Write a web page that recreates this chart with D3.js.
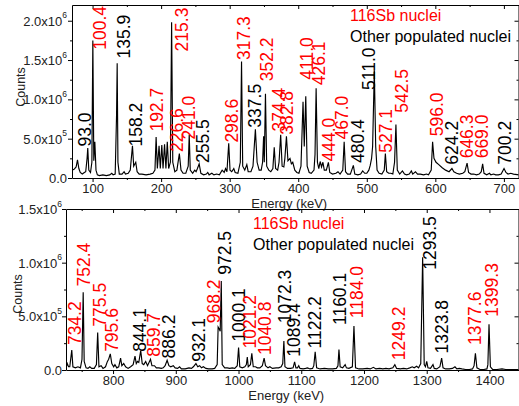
<!DOCTYPE html>
<html><head><meta charset="utf-8">
<script src="https://cdn.jsdelivr.net/npm/d3@7"></script>
<style>
body{margin:0;background:#fff}
svg text{font-family:Arial,"Liberation Sans",Helvetica,sans-serif}
</style>
</head><body>
<svg id="chart" width="519" height="406"></svg>
<script>
// ---------------- DATA (counts in units of 10^6) ----------------
const topSpectrum = [[70,0.10],[73,0.11],[76,0.14],[78,0.23],[80,0.12],[82,0.07],[85,0.05],[88,0.07],[90,0.08],[92,0.25],[93,0.38],[94.5,0.1],[97,0.07],[99,0.2],[100.4,1.75],[101.8,0.22],[103.3,0.46],[105,0.1],[107,0.04],[110,0.03],[115,0.04],[120,0.03],[125,0.04],[128,0.06],[130,0.04],[133,0.05],[135,0.8],[135.9,1.46],[137,0.2],[139,0.05],[143,0.05],[146,0.08],[148,0.05],[152,0.06],[155,0.1],[158.2,0.41],[160,0.15],[163,0.2],[165,0.08],[168,0.05],[172,0.05],[178,0.04],[184,0.05],[188,0.06],[191,0.1],[192.7,0.52],[194.5,0.12],[197,0.41],[198.8,0.12],[201,0.42],[202.8,0.12],[205,0.43],[207,0.12],[209,0.46],[211,0.12],[213.5,0.2],[215.3,1.98],[217,0.2],[220,0.08],[223,0.1],[226.6,0.31],[229,0.1],[232,0.06],[236,0.06],[239.5,0.15],[241,0.55],[242.5,0.1],[246,0.06],[249,0.1],[251,0.08],[253,0.12],[255.5,0.18],[258,0.06],[262,0.04],[266,0.05],[268,0.07],[270,0.04],[274,0.06],[277,0.04],[281,0.05],[285,0.04],[289,0.1],[292,0.07],[294,0.12],[296,0.08],[298.6,0.44],[300.5,0.1],[303,0.08],[306,0.12],[308,0.07],[312,0.06],[315.5,0.2],[317.3,1.48],[319,0.15],[322,0.1],[325,0.17],[327,0.08],[331,0.08],[334,0.15],[337.5,0.62],[340,0.2],[343,0.1],[346,0.1],[348,0.2],[349.5,0.53],[350.5,0.2],[352.2,1.07],[354,0.15],[357,0.1],[360,0.08],[363,0.12],[365,0.39],[367,0.12],[370,0.1],[372,0.2],[374.4,0.55],[376.5,0.15],[379,0.14],[380.5,0.25],[382.8,0.53],[385,0.22],[388,0.25],[390,0.18],[392,0.2],[395,0.1],[398,0.07],[401,0.06],[404,0.15],[407,0.97],[408.8,0.4],[411,1.04],[413,0.15],[416,0.07],[419,0.06],[423,0.1],[424.5,0.3],[426.1,1.14],[428,0.2],[430,0.12],[432,0.21],[434,0.14],[436,0.2],[438,0.1],[441,0.1],[444,0.2],[446,0.07],[450,0.05],[455,0.06],[458,0.08],[461,0.05],[465,0.1],[467,0.46],[469,0.08],[472,0.05],[476,0.05],[480.4,0.16],[482.5,0.05],[487,0.04],[491,0.05],[494,0.09],[497,0.06],[500,0.06],[503,0.1],[505,0.16],[507,0.25],[508.5,0.4],[511,1.37],[513,0.4],[515,0.1],[518,0.06],[522,0.05],[525.5,0.1],[527.1,0.31],[529,0.08],[532,0.06],[535,0.06],[538,0.05],[540.5,0.2],[542.5,0.68],[544.5,0.1],[548,0.05],[552,0.09],[555,0.05],[558,0.04],[562,0.05],[565,0.09],[567,0.05],[571,0.08],[574,0.05],[578,0.05],[583,0.04],[587,0.05],[590,0.04],[594,0.1],[596,0.46],[598,0.25],[601,0.2],[605,0.17],[610,0.13],[615,0.1],[620,0.08],[624.2,0.12],[627,0.08],[631,0.06],[635,0.05],[640,0.06],[643,0.08],[646.3,0.19],[648.5,0.07],[652,0.05],[656,0.05],[660,0.04],[664,0.05],[667,0.08],[669,0.18],[671,0.06],[675,0.04],[679,0.06],[681,0.04],[685,0.05],[688,0.04],[692,0.04],[696,0.05],[700.2,0.12],[703,0.07],[706,0.05],[710,0.06],[714,0.05],[722,0.04]];

const bottomSpectrum = [[725,0.02],[727,0.06],[729,0.03],[731,0.03],[734.2,0.185],[736,0.03],[740,0.02],[744,0.03],[748,0.02],[750.5,0.1],[752.4,0.725],[754,0.08],[757,0.02],[760,0.015],[763,0.03],[766,0.015],[770,0.015],[773.5,0.05],[775.5,0.35],[777.5,0.03],[781,0.04],[784,0.015],[788,0.03],[791,0.08],[793,0.1],[795.6,0.15],[798,0.06],[801,0.03],[803,0.05],[806,0.02],[809,0.03],[812,0.11],[814,0.04],[817,0.06],[820,0.03],[824,0.015],[828,0.03],[832,0.05],[835,0.13],[837,0.06],[839,0.08],[841,0.07],[844.1,0.18],[846.5,0.06],[849,0.05],[852,0.08],[855,0.04],[859.7,0.1],[862,0.04],[866,0.04],[869,0.02],[873,0.02],[877,0.015],[880,0.02],[883,0.04],[886.2,0.09],[889,0.04],[892,0.03],[896,0.04],[899,0.02],[903,0.015],[906,0.03],[909,0.01],[915,0.01],[921,0.02],[925,0.015],[928,0.03],[932.1,0.06],[935,0.03],[938,0.04],[941,0.02],[944,0.03],[948,0.015],[952,0.01],[958,0.01],[962,0.015],[966,0.05],[967.5,0.4],[969.5,0.38],[970.8,0.36],[972.5,0.83],[974,0.05],[978,0.02],[982,0.02],[986,0.015],[990,0.02],[994,0.015],[998,0.04],[1000.1,0.21],[1002,0.03],[1006,0.02],[1010,0.03],[1012.5,0.05],[1014,0.12],[1015.5,0.03],[1019,0.05],[1021.2,0.155],[1023.5,0.03],[1027,0.03],[1030,0.02],[1034,0.02],[1038,0.04],[1040.8,0.11],[1043,0.04],[1047,0.02],[1050,0.03],[1054,0.015],[1060,0.02],[1064,0.02],[1068,0.03],[1070.5,0.06],[1072.3,0.27],[1074,0.03],[1078,0.015],[1083,0.015],[1087,0.02],[1089.4,0.075],[1091.5,0.02],[1094,0.02],[1096,0.04],[1098,0.015],[1103,0.01],[1107,0.015],[1110,0.02],[1114,0.01],[1118,0.015],[1120,0.04],[1122.2,0.17],[1124.5,0.02],[1130,0.01],[1137,0.015],[1143,0.01],[1150,0.01],[1156,0.015],[1158.5,0.04],[1160.1,0.19],[1162,0.03],[1166,0.02],[1170,0.05],[1172,0.02],[1176,0.015],[1181.5,0.03],[1184,0.41],[1186.5,0.02],[1192,0.01],[1198,0.01],[1205,0.015],[1210,0.01],[1215,0.025],[1219,0.01],[1225,0.015],[1230,0.01],[1235,0.015],[1240,0.01],[1246,0.02],[1249.2,0.05],[1252,0.015],[1258,0.01],[1263,0.015],[1268,0.01],[1273,0.02],[1277,0.03],[1280,0.02],[1284,0.035],[1287,0.02],[1290.5,0.06],[1293.5,1.05],[1296,0.05],[1298,0.03],[1300,0.08],[1302,0.02],[1306,0.015],[1310,0.05],[1312,0.015],[1316,0.01],[1321,0.03],[1323.8,0.11],[1326,0.02],[1330,0.01],[1336,0.01],[1341,0.015],[1345,0.03],[1348,0.01],[1352,0.015],[1356,0.01],[1362,0.005],[1368,0.005],[1373,0.01],[1375.5,0.04],[1377.6,0.155],[1380,0.02],[1385,0.005],[1391,0.005],[1396,0.01],[1397.5,0.05],[1399.3,0.425],[1401.5,0.03],[1405,0.005],[1412,0.005],[1420,0.01],[1426,0.005],[1435,0.005],[1447,0.005]];

// peak labels: [text, energy position, counts position (10^6), group]
const topLabels = [["93.0",89.0,0.40,"o"],["100.4",109.8,1.63,"s"],["135.9",144.8,1.52,"o"],["158.2",162.9,0.40,"o"],["192.7",193.5,0.59,"s"],["215.3",230.0,1.61,"s"],["226.6",222.7,0.33,"s"],["241.0",240.6,0.49,"s"],["255.5",260.0,0.19,"o"],["298.6",302.9,0.45,"s"],["317.3",319.8,1.50,"s"],["337.5",336.9,0.64,"o"],["352.2",353.9,1.23,"s"],["374.4",370.9,0.59,"s"],["382.8",383.1,0.55,"s"],["411.0",412.3,1.25,"s"],["426.1",429.2,1.18,"s"],["444.0",443.8,0.21,"s"],["467.0",463.3,0.49,"s"],["480.4",486.7,0.19,"o"],["511.0",502.1,1.12,"o"],["527.1",527.5,0.32,"s"],["542.5",550.8,0.83,"s"],["596.0",601.9,0.53,"s"],["624.2",623.7,0.17,"o"],["646.3",645.6,0.25,"s"],["669.0",667.5,0.25,"s"],["700.2",701.5,0.17,"o"]];

const bottomLabels = [["734.2",739.3,0.232,"s"],["752.4",753.7,0.778,"s"],["775.5",779.2,0.404,"s"],["795.6",797.9,0.169,"s"],["844.1",843.0,0.169,"o"],["859.7",864.2,0.123,"s"],["886.2",888.1,0.108,"o"],["932.1",935.9,0.076,"o"],["968.2",959.8,0.435,"s"],["972.5",978.5,0.888,"o"],["1000.1",999.7,0.263,"o"],["1021.2",1018.3,0.201,"s"],["1040.8",1042.2,0.139,"s"],["1072.3",1074.1,0.435,"o"],["1089.4",1087.4,0.123,"o"],["1122.2",1121.9,0.201,"o"],["1160.1",1161.8,0.419,"o"],["1184.0",1188.4,0.482,"s"],["1249.2",1254.7,0.092,"s"],["1293.5",1305.3,0.934,"o"],["1323.8",1323.9,0.154,"o"],["1377.6",1377.0,0.232,"s"],["1399.3",1403.6,0.497,"s"]];

const legendEntries = [["116Sb nuclei","s"],["Other populated nuclei","o"]];
const groupColor = {s:"#ff0000", o:"#000000"};

const topXTicks = [100,200,300,400,500,600,700];
const topXMinor = [150,250,350,450,550,650];
const topYTicks = [0,0.5,1.0,1.5,2.0];
const topYTickLabels = [["0.0",""],["5.0x10","5"],["1.0x10","6"],["1.5x10","6"],["2.0x10","6"]];
const topYMinor = [0.25,0.75,1.25,1.75];

const botXTicks = [800,900,1000,1100,1200,1300,1400];
const botXMinor = [750,850,950,1050,1150,1250,1350];
const botYTicks = [0,0.5,1.0,1.5];
const botYTickLabels = [["0.0",""],["5.0x10","5"],["1.0x10","6"],["1.5x10","6"]];
const botYMinor = [0.25,0.75,1.25];

// ---------------- DRAW ----------------
const svg = d3.select("#chart");

function panel(cfg){
  const x = d3.scaleLinear().domain(cfg.xDomain).range([cfg.left, cfg.right]);
  const y = d3.scaleLinear().domain(cfg.yDomain).range([cfg.bottom, cfg.top]);
  const g = svg.append("g");
  const clipId = "clip" + cfg.id;
  g.append("clipPath").attr("id", clipId).append("rect")
    .attr("x", cfg.left).attr("y", cfg.top)
    .attr("width", cfg.right - cfg.left).attr("height", cfg.bottom - cfg.top);

  const line = d3.line().x(d=>x(d[0])).y(d=>y(d[1]));
  g.append("path").datum(cfg.spectrum)
    .attr("clip-path", `url(#${clipId})`)
    .attr("fill","none").attr("stroke","#000").attr("stroke-width",1.15)
    .attr("stroke-linejoin","miter").attr("d", line);

  const fs = 13;
  // bottom axis
  const bx = g.append("g").attr("transform",`translate(0,${cfg.bottom})`)
    .call(d3.axisBottom(x).tickValues(cfg.xTicks).tickSizeInner(4).tickSizeOuter(0).tickPadding(2).tickFormat(d3.format("d")));
  g.append("g").attr("transform",`translate(0,${cfg.bottom})`)
    .call(d3.axisBottom(x).tickValues(cfg.xMinor).tickSize(2).tickFormat(""))
    .select(".domain").remove();
  // top border with inward ticks
  g.append("g").attr("transform",`translate(0,${cfg.top})`)
    .call(d3.axisBottom(x).tickValues(cfg.xTicks).tickSizeInner(4).tickSizeOuter(0).tickFormat(""));
  g.append("g").attr("transform",`translate(0,${cfg.top})`)
    .call(d3.axisBottom(x).tickValues(cfg.xMinor).tickSize(2).tickFormat(""))
    .select(".domain").remove();
  // left axis
  const ly = g.append("g").attr("transform",`translate(${cfg.left},0)`)
    .call(d3.axisLeft(y).tickValues(cfg.yTicks).tickSizeInner(4).tickSizeOuter(0).tickPadding(cfg.yPad).tickFormat(""));
  g.append("g").attr("transform",`translate(${cfg.left},0)`)
    .call(d3.axisLeft(y).tickValues(cfg.yMinor).tickSize(2).tickFormat(""))
    .select(".domain").remove();
  // right border with inward ticks
  g.append("g").attr("transform",`translate(${cfg.right},0)`)
    .call(d3.axisLeft(y).tickValues(cfg.yTicks).tickSizeInner(4).tickSizeOuter(0).tickFormat(""));
  g.append("g").attr("transform",`translate(${cfg.right},0)`)
    .call(d3.axisLeft(y).tickValues(cfg.yMinor).tickSize(2).tickFormat(""))
    .select(".domain").remove();

  g.selectAll(".tick line, .domain").attr("stroke","#000").attr("stroke-width",1);

  bx.selectAll("text").attr("font-size",fs).attr("fill","#222").attr("font-family",null);
  // y tick labels with superscripts
  ly.selectAll(".tick").each(function(d,i){
    const t = d3.select(this).select("text").attr("font-size",fs).attr("fill","#222").attr("font-family",null).attr("dy","0.34em");
    const lab = cfg.yTickLabels[i];
    t.text(null);
    t.append("tspan").text(lab[0]);
    if(lab[1]) t.append("tspan").attr("font-size",8.5).attr("dy","-0.85em").text(lab[1]);
  });

  // axis titles
  g.append("text").attr("x",(cfg.left+cfg.right)/2 - 6).attr("y",cfg.bottom + 30)
    .attr("text-anchor","middle").attr("font-size",fs).attr("fill","#222").text("Energy (keV)");
  g.append("text").attr("transform",`translate(${cfg.countsX},${cfg.countsY}) rotate(-90)`)
    .attr("text-anchor","middle").attr("dy","0.36em").attr("font-size",12.5)
    .attr("fill","#222").text("Counts");

  // peak labels
  g.selectAll("text.peak").data(cfg.labels).join("text").attr("class","peak")
    .attr("transform", d=>`translate(${x(d[1])},${y(d[2])}) rotate(-90)`)
    .attr("dy","0.36em").attr("font-size",17.5)
    .attr("fill", d=>groupColor[d[3]]).text(d=>d[0]);

  // legend
  g.selectAll("text.leg").data(legendEntries).join("text").attr("class","leg")
    .attr("x", cfg.legendX).attr("y", (d,i)=>cfg.legendY + i*20.8)
    .attr("font-size",16).attr("fill", d=>groupColor[d[1]]).text(d=>d[0]);
}

panel({id:"t", left:72, right:518.5, top:5, bottom:178, xDomain:[70,721.3], yDomain:[0,2.2],
  spectrum: topSpectrum, labels: topLabels, xTicks: topXTicks, xMinor: topXMinor,
  yTicks: topYTicks, yTickLabels: topYTickLabels, yMinor: topYMinor, yPad:1,
  countsX:20, countsY:87, legendX:350, legendY:20.7});

panel({id:"b", left:66, right:518.5, top:209, bottom:370, xDomain:[725,1446.3], yDomain:[0,1.5],
  spectrum: bottomSpectrum, labels: bottomLabels, xTicks: botXTicks, xMinor: botXMinor,
  yTicks: botYTicks, yTickLabels: botYTickLabels, yMinor: botYMinor, yPad:0,
  countsX:17, countsY:294, legendX:253, legendY:229.3});
</script>
</body></html>
